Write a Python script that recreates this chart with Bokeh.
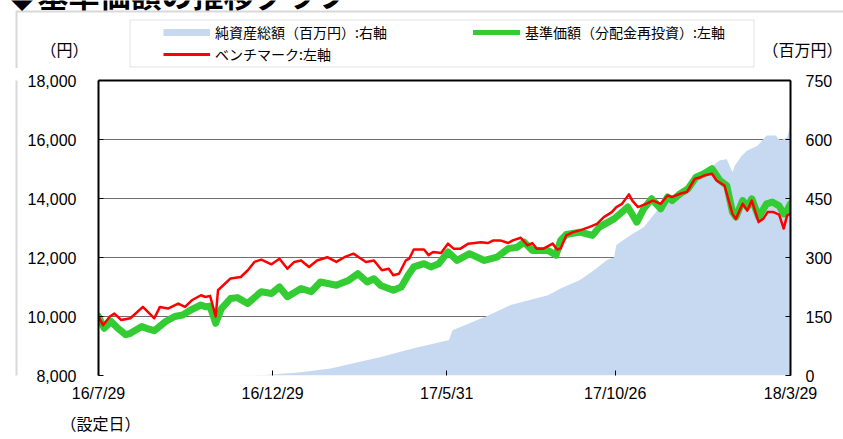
import pandas as pd
from bokeh.plotting import figure
from bokeh.layouts import column, row
from bokeh.models import (Range1d, LinearAxis, FixedTicker, NumeralTickFormatter, Grid,
                          Legend, LegendItem, BoxAnnotation, Label, Title, ColumnDataSource)
from bokeh.embed import file_html
from bokeh.resources import INLINE

# ---------------- data ----------------
nav_dates = ["2016-07-29", "2016-08-03", "2016-08-09", "2016-08-15", "2016-08-22", "2016-08-26",
             "2016-09-05", "2016-09-09", "2016-09-16", "2016-09-26", "2016-10-04", "2016-10-11",
             "2016-10-18", "2016-10-27", "2016-10-31", "2016-11-04", "2016-11-09", "2016-11-14",
             "2016-11-22", "2016-11-28", "2016-12-07", "2016-12-19", "2016-12-28", "2017-01-04",
             "2017-01-11", "2017-01-23", "2017-02-01", "2017-02-09", "2017-02-23", "2017-03-06",
             "2017-03-14", "2017-03-22", "2017-03-28", "2017-04-03", "2017-04-14", "2017-04-21",
             "2017-04-27", "2017-05-02", "2017-05-11", "2017-05-17", "2017-05-24", "2017-06-01",
             "2017-06-09", "2017-06-20", "2017-07-03", "2017-07-14", "2017-07-24", "2017-08-01",
             "2017-08-07", "2017-08-14", "2017-08-18", "2017-08-28", "2017-09-04", "2017-09-08",
             "2017-09-13", "2017-09-25", "2017-10-06", "2017-10-12", "2017-10-25", "2017-11-06",
             "2017-11-14", "2017-11-20", "2017-11-27", "2017-12-05", "2017-12-11", "2017-12-15",
             "2017-12-22", "2017-12-29", "2018-01-05", "2018-01-12", "2018-01-19", "2018-01-26",
             "2018-02-01", "2018-02-06", "2018-02-09", "2018-02-15", "2018-02-19", "2018-02-23",
             "2018-03-01", "2018-03-08", "2018-03-13", "2018-03-19", "2018-03-23", "2018-03-26",
             "2018-03-29"]
nav_values = [10000, 9600, 9830, 9600, 9380, 9430,
              9660, 9600, 9520, 9830, 10000, 10050,
              10220, 10390, 10330, 10350, 9770, 10270,
              10610, 10640, 10440, 10840, 10780, 11000,
              10670, 10950, 10840, 11170, 11060, 11230,
              11450, 11170, 11280, 11050, 10890, 11000,
              11400, 11680, 11790, 11680, 11790, 12190,
              11900, 12130, 11900, 12010, 12300, 12350,
              12520, 12240, 12240, 12240, 12080, 12580,
              12780, 12860, 12750, 13030, 13310, 13710,
              13200, 13650, 13990, 13650, 14050, 13930,
              14160, 14330, 14720, 14840, 15010, 14610,
              14440, 13540, 13370, 13930, 13710, 13990,
              13370, 13820, 13880, 13750, 13480, 13590,
              13820]

bm_dates = ["2016-07-29", "2016-08-02", "2016-08-08", "2016-08-12", "2016-08-18", "2016-08-26",
            "2016-09-06", "2016-09-16", "2016-09-21", "2016-09-28", "2016-10-07", "2016-10-13",
            "2016-10-19", "2016-10-27", "2016-10-31", "2016-11-04", "2016-11-09", "2016-11-11",
            "2016-11-22", "2016-12-01", "2016-12-07", "2016-12-13", "2016-12-19", "2016-12-28",
            "2017-01-04", "2017-01-11", "2017-01-17", "2017-01-23", "2017-01-30", "2017-02-06",
            "2017-02-15", "2017-02-23", "2017-03-02", "2017-03-10", "2017-03-21", "2017-03-28",
            "2017-04-04", "2017-04-10", "2017-04-14", "2017-04-19", "2017-04-25", "2017-04-28",
            "2017-05-02", "2017-05-11", "2017-05-15", "2017-05-19", "2017-05-26", "2017-06-01",
            "2017-06-06", "2017-06-12", "2017-06-19", "2017-06-30", "2017-07-06", "2017-07-11",
            "2017-07-17", "2017-07-24", "2017-07-28", "2017-08-04", "2017-08-10", "2017-08-14",
            "2017-08-18", "2017-08-24", "2017-09-01", "2017-09-05", "2017-09-08", "2017-09-13",
            "2017-09-19", "2017-09-25", "2017-10-03", "2017-10-10", "2017-10-16", "2017-10-23",
            "2017-10-27", "2017-11-01", "2017-11-07", "2017-11-10", "2017-11-15", "2017-11-22",
            "2017-11-28", "2017-12-05", "2017-12-11", "2017-12-15", "2017-12-22", "2017-12-28",
            "2018-01-04", "2018-01-09", "2018-01-12", "2018-01-19", "2018-01-23", "2018-01-30",
            "2018-02-06", "2018-02-09", "2018-02-15", "2018-02-19", "2018-02-23", "2018-03-01",
            "2018-03-05", "2018-03-09", "2018-03-14", "2018-03-19", "2018-03-23", "2018-03-26",
            "2018-03-29"]
bm_values = [10000, 9705, 10000, 10100, 9880, 9940,
             10325, 9940, 10325, 10270, 10440, 10325,
             10550, 10720, 10660, 10700, 10000, 10890,
             11290, 11340, 11560, 11850, 11930, 11770,
             11960, 11620, 11850, 11900, 11680, 11900,
             12010, 11850, 12010, 12130, 11850, 11900,
             11570, 11620, 11400, 11450, 11900, 11960,
             12270, 12270, 12080, 12190, 12150, 12470,
             12300, 12300, 12470, 12520, 12490, 12580,
             12580, 12490, 12580, 12670, 12410, 12490,
             12300, 12300, 12470, 12270, 12300, 12750,
             12860, 12920, 13030, 13140, 13370, 13540,
             13710, 13820, 14140, 13930, 13710, 13820,
             13930, 13820, 14100, 14050, 14160, 14220,
             14670, 14720, 14780, 14840, 14610, 14440,
             13480, 13310, 13820, 13590, 13930, 13200,
             13310, 13540, 13540, 13450, 12980, 13420,
             13480]

aum_dates = ["2016-07-29", "2016-12-22", "2017-01-23", "2017-02-18", "2017-03-08", "2017-04-03",
             "2017-05-02", "2017-06-02", "2017-06-05", "2017-07-07", "2017-07-26", "2017-08-28",
             "2017-09-08", "2017-09-25", "2017-10-07", "2017-10-19", "2017-10-25", "2017-10-27",
             "2017-11-08", "2017-11-20", "2017-12-02", "2017-12-11", "2017-12-22", "2018-01-05",
             "2018-01-20", "2018-01-26", "2018-02-01", "2018-02-06", "2018-02-08", "2018-02-14",
             "2018-02-19", "2018-02-28", "2018-03-08", "2018-03-16", "2018-03-20", "2018-03-26",
             "2018-03-28", "2018-03-29"]
aum_values = [0, 1, 8, 18, 30, 47,
              69, 90, 115, 153, 179, 204,
              221, 243, 267, 294, 300, 332,
              356, 377, 420, 443, 462, 496,
              534, 547, 550, 517, 533, 558,
              572, 584, 610, 610, 597, 605,
              627, 625]

x_tick_dates = ["2016-07-29", "2016-12-29", "2017-05-31", "2017-10-26", "2018-03-29"]
x_tick_labels = ["16/7/29", "16/12/29", "17/5/31", "17/10/26", "18/3/29"]
left_ticks = [8000, 10000, 12000, 14000, 16000, 18000]
right_ticks = [0, 150, 300, 450, 600, 750]

series_labels = ["純資産総額（百万円）:右軸", "基準価額（分配金再投資）:左軸", "ベンチマーク:左軸"]
title_text = "◆基準価額の推移グラフ"

# ---------------- styling constants ----------------
JP = "Noto Sans CJK JP"
NUM = "Liberation Sans"
C_AREA = "#C6D9F0"
C_NAV = "#33CC33"
C_BM = "#FF0000"
C_BOX = "#7f7f7f"
W, H = 843, 439
HEAD_H = 68
STRIP_W = 18
NAN = float("nan")


def bare_fig(w, h):
    f = figure(width=w, height=h, x_range=Range1d(0, w), y_range=Range1d(h, 0),
               output_backend="svg", toolbar_location=None, title=None,
               x_axis_location=None, y_axis_location=None,
               min_border=0, min_border_left=0, min_border_right=0,
               min_border_top=0, min_border_bottom=0)
    f.xgrid.visible = False
    f.ygrid.visible = False
    f.outline_line_color = None
    f.background_fill_color = "white"
    f.border_fill_color = "white"
    return f


# ---------------- header (title, units, legend) ----------------
head = bare_fig(W, HEAD_H)

head.add_layout(BoxAnnotation(left=16, right=W + 50, top=11, bottom=HEAD_H + 50,
                              fill_alpha=0, line_color=C_BOX, line_width=2))
head.add_layout(BoxAnnotation(left=129.5, right=753.5, top=19.5, bottom=66.5,
                              fill_alpha=0, line_color="#a0a0a0", line_width=1))

# legend keys (no visible marks of their own)
key_area = head.line(x=[NAN], y=[NAN], line_color=C_AREA, line_width=7, line_cap="butt")
key_nav = head.line(x=[NAN], y=[NAN], line_color=C_NAV, line_width=5, line_cap="round")
key_bm = head.line(x=[NAN], y=[NAN], line_color=C_BM, line_width=3)

legend_a = Legend(items=[LegendItem(label=series_labels[0], renderers=[key_area]),
                         LegendItem(label=series_labels[2], renderers=[key_bm])],
                  location=(163, 4))
legend_b = Legend(items=[LegendItem(label=series_labels[1], renderers=[key_nav])],
                  location=(473, 26))
for lg in (legend_a, legend_b):
    lg.orientation = "vertical"
    lg.glyph_width = 47
    lg.glyph_height = 20
    lg.label_height = 20
    lg.label_standoff = 5
    lg.spacing = 2
    lg.padding = 0
    lg.margin = 0
    lg.border_line_color = None
    lg.background_fill_alpha = 0
    lg.label_text_font = JP
    lg.label_text_font_size = "14px"
    lg.label_text_color = "black"
    head.add_layout(lg, "center")


def add_label(fig, txt, x, y, size, align="center", baseline="middle", bold=False):
    fig.add_layout(Label(x=x, y=y, text=txt, text_font=JP, text_font_size=size,
                         text_align=align, text_baseline=baseline, text_color="black",
                         text_font_style="bold" if bold else "normal"))


add_label(head, title_text, 6, -7, "31px", align="left", baseline="alphabetic", bold=True)
add_label(head, "（円）", 64, 48, "16px")
add_label(head, "（百万円）", 802, 48, "16px")

# ---------------- left strip (outer frame line) ----------------
strip = bare_fig(STRIP_W, H - HEAD_H)
strip.add_layout(BoxAnnotation(left=16, right=STRIP_W + 50, top=-50, bottom=H + 50,
                               fill_alpha=0, line_color=C_BOX, line_width=2))

# ---------------- main chart ----------------
nav_src = ColumnDataSource(dict(date=pd.to_datetime(nav_dates), v=nav_values))
bm_src = ColumnDataSource(dict(date=pd.to_datetime(bm_dates), v=bm_values))
aum_src = ColumnDataSource(dict(date=pd.to_datetime(aum_dates), v=aum_values))

MAIN_W = W - STRIP_W
p = figure(width=MAIN_W, height=H - HEAD_H, x_axis_type="datetime",
           x_range=Range1d(pd.Timestamp(x_tick_dates[0]), pd.Timestamp(x_tick_dates[-1])),
           y_range=Range1d(left_ticks[0], left_ticks[-1]),
           output_backend="svg", toolbar_location=None, title=None,
           min_border_left=98 - STRIP_W, min_border_right=MAIN_W - (790 - STRIP_W),
           min_border_top=80 - HEAD_H, min_border_bottom=64)
p.outline_line_color = None
p.background_fill_color = "white"
p.border_fill_color = "white"
p.extra_y_ranges = {"aum": Range1d(right_ticks[0], right_ticks[-1])}

p.xgrid.visible = False
p.ygrid.ticker = FixedTicker(ticks=left_ticks[1:-1])
p.ygrid.grid_line_color = "#6e6e6e"
p.ygrid.grid_line_width = 1
# bottom frame line sits under the area, as in the reference
p.add_layout(Grid(dimension=1, ticker=FixedTicker(ticks=[left_ticks[0]]),
                  grid_line_color="black", grid_line_width=3))


def style_axis(ax, standoff):
    ax.axis_line_color = "black"
    ax.axis_line_width = 2
    ax.major_tick_in = 5
    ax.major_tick_out = 0
    ax.major_tick_line_color = "black"
    ax.minor_tick_line_color = None
    ax.major_label_standoff = standoff
    ax.major_label_text_font = NUM
    ax.major_label_text_font_size = "16px"
    ax.major_label_text_color = "black"


ya = p.yaxis[0]
ya.ticker = FixedTicker(ticks=left_ticks)
ya.formatter = NumeralTickFormatter(format="0,0")
style_axis(ya, 22)

xa = p.xaxis[0]
tick_ms = [int(pd.Timestamp(d).value // 10**6) for d in x_tick_dates]
xa.ticker = FixedTicker(ticks=tick_ms)
xa.major_label_overrides = {t: lab for t, lab in zip(tick_ms, x_tick_labels)}
style_axis(xa, 9)
xa.axis_line_color = None

ra = LinearAxis(y_range_name="aum", ticker=FixedTicker(ticks=right_ticks))
style_axis(ra, 15)
p.add_layout(ra, "right")

ta = LinearAxis(ticker=FixedTicker(ticks=[]))
ta.axis_line_color = "black"
ta.axis_line_width = 2
ta.major_tick_line_color = None
ta.minor_tick_line_color = None
ta.major_tick_out = 0
ta.major_tick_in = 0
ta.major_label_standoff = 0
ta.major_label_text_font_size = "0px"
p.add_layout(ta, "above")

p.add_layout(Title(text="（設定日）", align="left", offset=-38, standoff=8,
                   text_font=JP, text_font_size="16px", text_font_style="normal",
                   text_color="black"), "below")

p.varea(x="date", y1=0, y2="v", source=aum_src, y_range_name="aum",
        fill_color=C_AREA, fill_alpha=1.0)
p.line(x="date", y="v", source=nav_src, line_color=C_NAV, line_width=7,
       line_join="round", line_cap="round")
p.line(x="date", y="v", source=bm_src, line_color=C_BM, line_width=2.5,
       line_join="round")

layout = column(head, row(strip, p, spacing=0), spacing=0)

open("out.html", "w").write(file_html(layout, INLINE))
